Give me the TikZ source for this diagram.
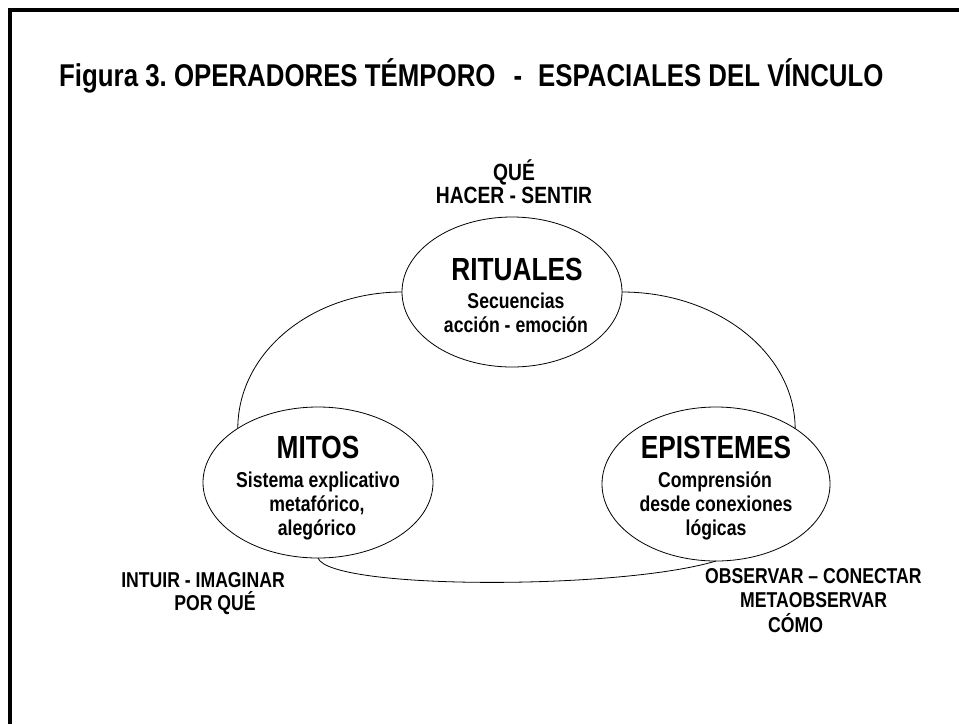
\documentclass[tikz,border=0pt]{standalone}
\usepackage{fontspec}
\setmainfont{Liberation Sans}[FakeStretch=0.82]
\usetikzlibrary{shapes.geometric}
\frenchspacing
\begin{document}
\begin{tikzpicture}[x=1pt,y=-1pt,
  ell/.style={draw, ellipse, line width=0.8pt, inner sep=0pt, outer sep=0pt},
  conn/.style={draw, line width=0.8pt},
  big/.style={anchor=base, inner sep=0pt, font=\fontsize{32}{38}\selectfont\bfseries},
  txt/.style={anchor=base, inner sep=0pt, font=\fontsize{21.5}{26}\selectfont\bfseries},
  toptxt/.style={anchor=base, inner sep=0pt, font=\fontsize{23.5}{28}\selectfont\bfseries},
  ttl/.style={anchor=base west, inner sep=0pt, font=\fontsize{31.5}{38}\selectfont\bfseries}]
\useasboundingbox (0,0) rectangle (959,724);
\draw[line width=4pt] (10,724) -- (10,9.5) -- (959,9.5);
% title
\node[ttl] (title) at (59,86) {Figura 3. OPERADORES TÉMPORO\hspace{18pt}-\hspace{16pt}ESPACIALES DEL VÍNCULO};
% ellipses
\node[ell, minimum width=220pt, minimum height=150pt] (rit) at (512,292) {};
\node[ell, minimum width=230pt, minimum height=151pt] (mit) at (318,482.5) {};
\node[ell, minimum width=228pt, minimum height=154pt] (epi) at (716,484) {};
% connectors
\draw[conn] (rit.west) .. controls (312,292) and (238,352) .. (mit.146);
\draw[conn] (rit.east) .. controls (717,292) and (795,353) .. (epi.35);
\draw[conn] (mit.south) .. controls (330,590) and (620,590) .. (epi.south);
% top labels
\node[toptxt] (que) at (514,180) {QUÉ};
\node[toptxt] (hacer) at (514,203) {HACER - SENTIR};
% rituales
\node[big] (ritT) at (517,280) {RITUALES};
\node[txt] (rit1) at (516,308) {Secuencias};
\node[txt] (rit2) at (516,332) {acción - emoción};
% mitos
\node[big] (mitT) at (318,458) {MITOS};
\node[txt] (mit1) at (318,487) {Sistema explicativo};
\node[txt] (mit2) at (317,511) {metafórico,};
\node[txt] (mit3) at (317,535) {alegórico};
% epistemes
\node[big] (epiT) at (716,458) {EPISTEMES};
\node[txt] (epi1) at (715,487) {Comprensión};
\node[txt] (epi2) at (716,511) {desde conexiones};
\node[txt] (epi3) at (716,535) {lógicas};
% bottom labels
\node[txt, anchor=base east] (intuir) at (285,587) {INTUIR - IMAGINAR};
\node[txt] (porque) at (215,610) {POR QUÉ};
\node[txt, anchor=base west] (obs) at (705,583) {OBSERVAR – CONECTAR};
\node[txt, anchor=base west] (meta) at (740,607) {METAOBSERVAR};
\node[txt, anchor=base west] (como) at (768,632) {CÓMO};
\end{tikzpicture}
\end{document}
